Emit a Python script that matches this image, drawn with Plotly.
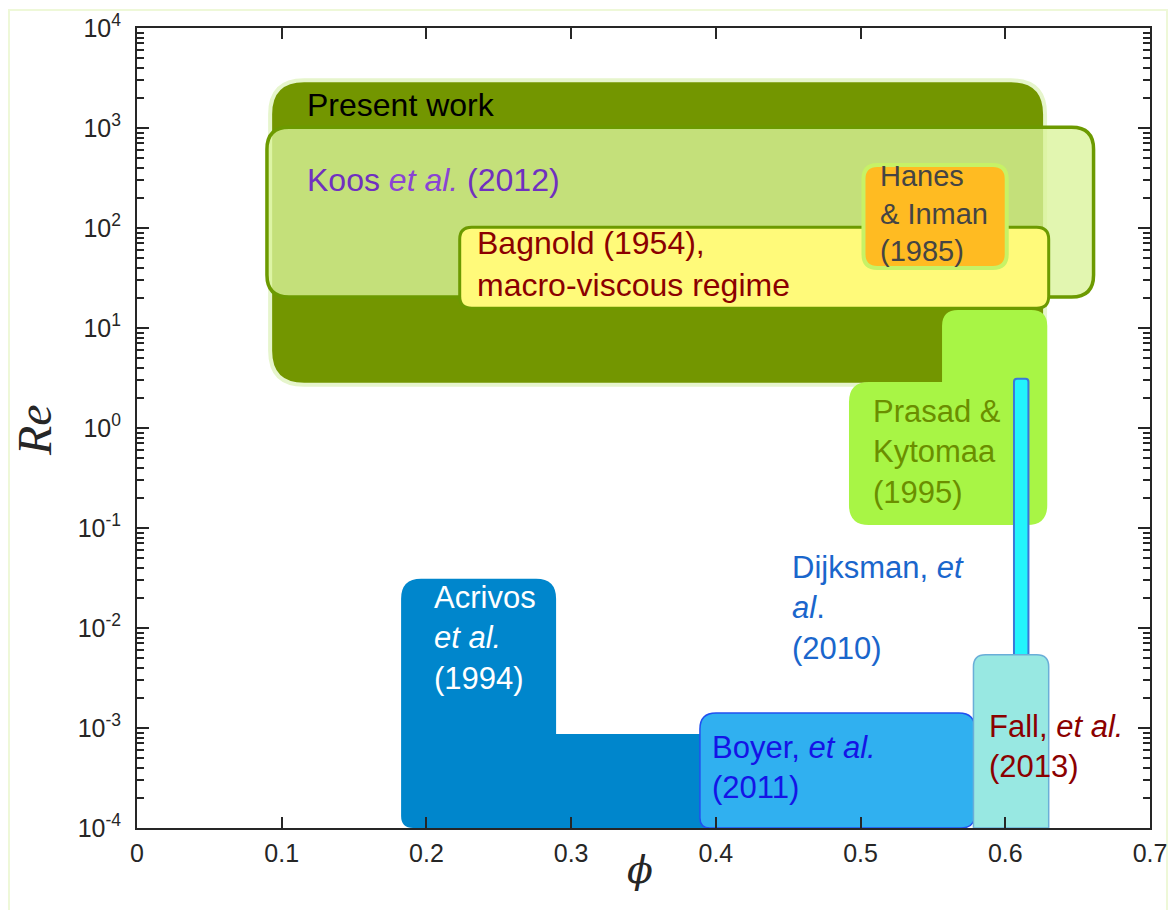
import math
import plotly.graph_objects as go

# ---------------- data (phi ranges, Re ranges) ----------------
present_phi = [0.092, 0.6275]
present_re = [2.7, 3000]

koos_phi = [0.0898, 0.661]
koos_re = [20.4, 1020]

bagnold_phi = [0.223, 0.630]
bagnold_re = [15.8, 102]

hanes_phi = [0.502, 0.601]
hanes_re = [39.8, 427]

prasad_phi = [0.492, 0.5563, 0.629]
prasad_re = [0.107, 2.88, 15.1]

dijksman_phi = [0.606, 0.616]
dijksman_re = [1e-4, 3.1]

fall_phi = [0.578, 0.630]
fall_re = [1e-4, 5.4e-3]

acrivos_phi = [0.1825, 0.2896, 0.41]
acrivos_re = [1e-4, 8.7e-4, 0.031]

boyer_phi = [0.389, 0.579]
boyer_re = [1.0e-4, 1.41e-3]

x_range = [0, 0.7]
y_log_range = [-4, 4]
y_tickvals = [1e-4, 1e-3, 1e-2, 1e-1, 1e0, 1e1, 1e2, 1e3, 1e4]
y_ticktext = ["10<sup>-4</sup>", "10<sup>-3</sup>", "10<sup>-2</sup>", "10<sup>-1</sup>",
              "10<sup>0</sup>", "10<sup>1</sup>", "10<sup>2</sup>", "10<sup>3</sup>", "10<sup>4</sup>"]

# ---------------- helpers ----------------
PLOT_W, PLOT_H = 1013.0, 800.0
XPX = PLOT_W / (x_range[1] - x_range[0])
YPX = PLOT_H / (y_log_range[1] - y_log_range[0])


def fmt(v):
    return f"{v:.10f}"


def rounded_path(verts, radii):
    pts = [(x, math.log10(y)) for x, y in verts]
    n = len(pts)

    def towards(a, b, r):
        dxp = (b[0] - a[0]) * XPX
        dyp = (b[1] - a[1]) * YPX
        L = math.hypot(dxp, dyp)
        if L == 0 or r == 0:
            return a
        t = min(r, L / 2) / L
        return (a[0] + (b[0] - a[0]) * t, a[1] + (b[1] - a[1]) * t)

    def P(p):
        return f"{fmt(p[0])},{fmt(10 ** p[1])}"

    s = ""
    for i in range(n):
        p_prev, p, p_next = pts[i - 1], pts[i], pts[(i + 1) % n]
        r = radii[i]
        a = towards(p, p_prev, r)
        b = towards(p, p_next, r)
        s += ("M" if i == 0 else " L") + P(a)
        if r:
            s += " Q" + P(p) + " " + P(b)
    return s + " Z"


def rrect(xs, ys, r):
    verts = [(xs[0], ys[0]), (xs[0], ys[1]), (xs[1], ys[1]), (xs[1], ys[0])]
    if not isinstance(r, (list, tuple)):
        r = [r] * 4
    return rounded_path(verts, r)


def shape(path, fill, line_color=None, line_width=0):
    return dict(type="path", path=path, xref="x", yref="y", fillcolor=fill,
                line=dict(color=line_color or "rgba(0,0,0,0)", width=line_width),
                layer="below")


shapes = []
# page frame
shapes.append(dict(type="rect", xref="paper", yref="paper", x0=-0.1264, x1=1.0168,
                   y0=-0.2, y1=1.0225, line=dict(color="#eef8d8", width=2),
                   fillcolor="rgba(0,0,0,0)", layer="below"))

shapes.append(shape(rrect(present_phi, present_re, 34), "#739600", "#e6f5cc", 4))
shapes.append(shape(rrect(koos_phi, koos_re, 22), "rgba(218,244,155,0.79)", "#6c9a00", 3.5))
shapes.append(shape(rrect(bagnold_phi, bagnold_re, 12), "#fffa7a", "#6c9a00", 3))
shapes.append(shape(rrect(hanes_phi, hanes_re, 14), "#ffbb22", "#c7f266", 4))
prasad_verts = [(prasad_phi[0], prasad_re[0]), (prasad_phi[0], prasad_re[1]),
                (prasad_phi[1], prasad_re[1]), (prasad_phi[1], prasad_re[2]),
                (prasad_phi[2], prasad_re[2]), (prasad_phi[2], prasad_re[0])]
shapes.append(shape(rounded_path(prasad_verts, [20, 20, 0, 16, 16, 20]), "#a8f545"))
shapes.append(shape(rrect(dijksman_phi, dijksman_re, [0, 3, 3, 0]), "#22f4fc", "#3a78d8", 2))
acrivos_verts = [(acrivos_phi[0], acrivos_re[0]), (acrivos_phi[0], acrivos_re[2]),
                 (acrivos_phi[1], acrivos_re[2]), (acrivos_phi[1], acrivos_re[1]),
                 (acrivos_phi[2], acrivos_re[1]), (acrivos_phi[2], acrivos_re[0])]
shapes.append(shape(rounded_path(acrivos_verts, [12, 20, 20, 0, 0, 0]), "#0086cc"))
shapes.append(shape(rrect(boyer_phi, boyer_re, [10, 16, 16, 14]), "#30b0f0", "#2050f0", 1.5))
shapes.append(shape(rrect(fall_phi, fall_re, [0, 12, 12, 0]), "#98e8e2", "#6aaed8", 1.5))

FONT = "Liberation Sans, Arial, sans-serif"


def label(x, ly, text, color, size=32):
    return dict(x=x, y=ly, xref="x", yref="y", text=text, showarrow=False,
                xanchor="left", yanchor="middle", align="left",
                font=dict(family=FONT, size=size, color=color))


annotations = [
    label(0.1161, 3.23, "Present work", "#000000"),
    label(0.1161, 2.48, "Koos <i><span style='color:#8a44d4'>et al.</span></i> (2012)", "#7030c0"),
    label(0.2336, 1.64, "Bagnold (1954),<br>macro-viscous regime", "#8b0000"),
    label(0.512, 2.15, "Hanes<br>&amp; Inman<br>(1985)", "#444444", 29),
    label(0.5073, -0.235, "Prasad &amp;<br>Kytomaa<br>(1995)", "#6b8e00", 31),
    label(0.4513, -1.795, "Dijksman, <i>et</i><br><i>al</i>.<br>(2010)", "#1a66cc", 31),
    label(0.2039, -2.10, "Acrivos<br><i>et al.</i><br>(1994)", "#ffffff", 31),
    label(0.396, -3.395, "Boyer, <i>et al.</i><br>(2011)", "#1414e6", 31),
    label(0.5874, -3.18, "Fall, <i>et al.</i><br>(2013)", "#8b0000", 31),
    dict(x=-0.1007, y=0.4975, xref="paper", yref="paper", text="<i>Re</i>", showarrow=False,
         textangle=-90, xanchor="center", yanchor="middle",
         font=dict(family="Liberation Serif, DejaVu Serif, serif", size=48, color="#262626")),
    dict(x=0.4965, y=-0.0525, xref="paper", yref="paper", text="<i>ϕ</i>", showarrow=False,
         xanchor="center", yanchor="middle",
         font=dict(family="DejaVu Serif, Liberation Serif, serif", size=38, color="#262626")),
]

fig = go.Figure()
fig.add_trace(go.Scatter(x=[None], y=[None], mode="markers", showlegend=False, hoverinfo="skip"))

axis_common = dict(showline=True, linecolor="#262626", linewidth=2, mirror="allticks",
                   ticks="inside", tickcolor="#262626", tickwidth=2, showgrid=False,
                   zeroline=False, tickfont=dict(family=FONT, size=25, color="#262626"))

fig.update_layout(
    width=1160, height=902,
    margin=dict(l=129, r=18, t=20, b=82, autoexpand=False),
    paper_bgcolor="white", plot_bgcolor="white",
    showlegend=False,
    xaxis=dict(range=x_range, dtick=0.1, tick0=0, ticklen=11, ticklabelstandoff=2, **axis_common),
    yaxis=dict(type="log", range=y_log_range, tickmode="array", tickvals=y_tickvals,
               ticktext=y_ticktext, ticklen=12, ticklabelstandoff=9,
               minor=dict(ticks="inside", ticklen=7, tickwidth=2, tickcolor="#262626",
                          dtick="D1", showgrid=False),
               **axis_common),
    shapes=shapes,
    annotations=annotations,
)

fig.write_html("out.html")
